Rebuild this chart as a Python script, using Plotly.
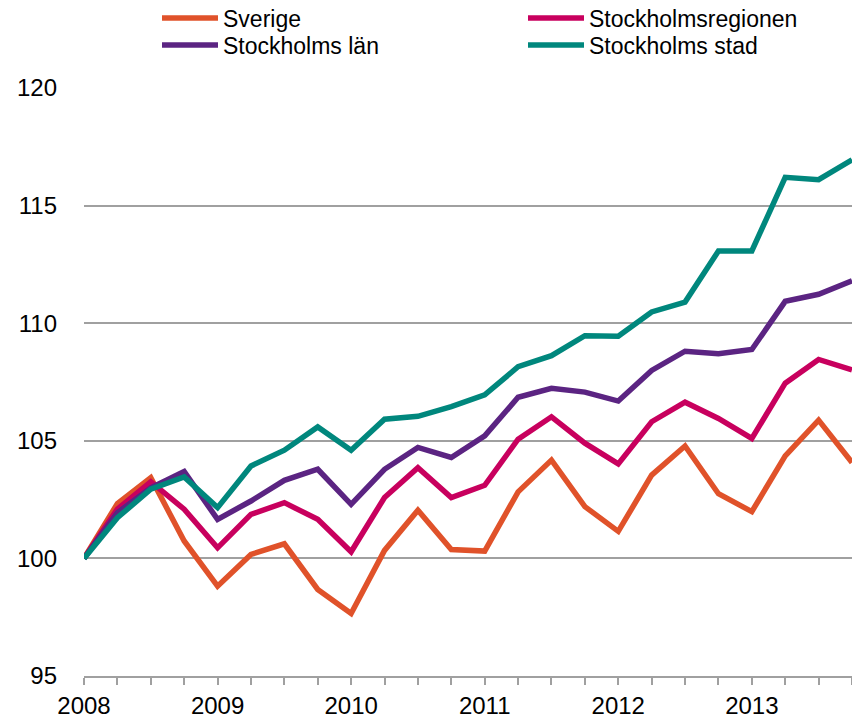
import plotly.graph_objects as go

quarters = list(range(24))  # 2008 Q1 .. 2013 Q4
tick_labels = ["2008", "", "", "", "2009", "", "", "", "2010", "", "", "",
               "2011", "", "", "", "2012", "", "", "", "2013", "", "", ""]

sverige = [100, 102.33, 103.43, 100.74, 98.82, 100.17, 100.62, 98.68, 97.66, 100.34,
           102.05, 100.38, 100.31, 102.83, 104.18, 102.2, 101.15, 103.54, 104.78, 102.75,
           101.99, 104.36, 105.88, 104.08]
sthlm_region = [100, 102.1, 103.26, 102.09, 100.45, 101.87, 102.37, 101.66, 100.28, 102.59,
                103.86, 102.59, 103.11, 105.07, 106.02, 104.9, 104.02, 105.81, 106.64, 105.95,
                105.1, 107.45, 108.46, 108.02]
sthlm_lan = [100, 101.94, 103.0, 103.69, 101.66, 102.44, 103.32, 103.79, 102.3, 103.79,
             104.72, 104.29, 105.21, 106.85, 107.23, 107.07, 106.69, 107.99, 108.81, 108.7,
             108.88, 110.93, 111.23, 111.8]
sthlm_stad = [100, 101.73, 102.94, 103.46, 102.16, 103.93, 104.6, 105.59, 104.6, 105.92,
              106.04, 106.45, 106.95, 108.15, 108.62, 109.47, 109.45, 110.48, 110.9, 113.07,
              113.07, 116.2, 116.1, 116.95]

series = [
    ("Sverige", sverige, "#E0522A", "legend"),
    ("Stockholmsregionen", sthlm_region, "#C8005E", "legend"),
    ("Stockholms län", sthlm_lan, "#5B2482", "legend2"),
    ("Stockholms stad", sthlm_stad, "#00877D", "legend2"),
]

W, H = 852, 721
ML, MR, MT, MB = 84, 0, 88, 45
ph = H - MT - MB

def py(p):
    return 1 + (MT - p) / ph

def px(p):
    return (p - ML) / (W - ML - MR)

fig = go.Figure()
for name, vals, color, lg in series:
    fig.add_trace(go.Scatter(x=quarters, y=vals, name=name, mode="lines",
                             line=dict(color=color, width=5.5), legend=lg))

leg_common = dict(orientation="h", xanchor="left", yanchor="middle",
                  bgcolor="rgba(0,0,0,0)",
                  font=dict(family="Liberation Sans, sans-serif", size=23, color="#000"),
                  itemwidth=56, entrywidth=295, entrywidthmode="pixels",
                  traceorder="normal")
fig.update_layout(
    width=W, height=H,
    margin=dict(l=ML, r=MR, t=MT, b=MB, autoexpand=False),
    paper_bgcolor="white", plot_bgcolor="white",
    font=dict(family="Liberation Sans, sans-serif", size=24, color="#000"),
    legend=dict(x=px(157), y=py(18), **leg_common),
    legend2=dict(x=px(157), y=py(45), **leg_common),
    xaxis=dict(range=[0, 23], tickmode="array", tickvals=quarters, ticktext=tick_labels,
               ticks="outside", ticklen=7, tickcolor="#A0A0A0", tickwidth=1.5,
               showline=True, linecolor="#A0A0A0", linewidth=1.5,
               showgrid=False, zeroline=False, tickfont=dict(size=24)),
    yaxis=dict(range=[95, 120], tickvals=[95, 100, 105, 110, 115, 120],
               showgrid=True, gridcolor="#A0A0A0", gridwidth=1.5,
               zeroline=False, showline=False, ticks="", ticklabelstandoff=26,
               tickfont=dict(size=24)),
)

fig.write_html("out.html", config={"displayModeBar": False},
               post_script="document.body.style.margin='0';")
